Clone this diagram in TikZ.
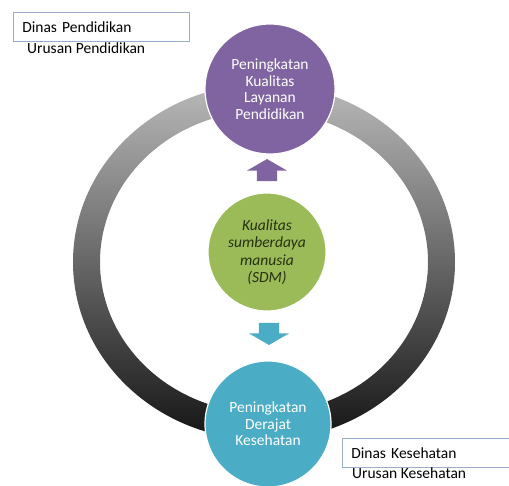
\documentclass[tikz,border=0pt]{standalone}
\usepackage{fontspec}
\setmainfont{Carlito}
\usetikzlibrary{positioning,shapes.arrows}
\definecolor{SdmPurple}{HTML}{8064A2}
\definecolor{SdmGreen}{HTML}{9BBB59}
\definecolor{SdmBlue}{HTML}{4BACC6}
\definecolor{SdmText}{HTML}{25300F}
\definecolor{BoxLine}{HTML}{9AAECB}

\begin{document}
\begin{tikzpicture}[x=1pt,y=-1pt,
 bulat/.style={circle,draw=white,line width=1.2pt,minimum size=#1,inner sep=0pt,align=center,font=\fontsize{15.5}{16.5}\selectfont},
 layanan/.style={bulat=130pt,fill=SdmPurple,text=white},
 inti/.style={bulat=118pt,fill=SdmGreen,text=SdmText,font=\fontsize{15.5}{17.5}\selectfont\itshape},
 kesehatan/.style={bulat=126pt,fill=SdmBlue,text=white},
 panah/.style={single arrow,draw=none,single arrow head extend=10pt,single arrow tip angle=120,inner sep=0pt,minimum width=40pt,minimum height=22pt,text height=20pt},
 dinas/.style={draw=BoxLine,fill=white,line width=.7pt,anchor=north west,inner xsep=9pt,inner ysep=0pt,text width=158pt,minimum height=29pt,align=left,font=\fontsize{15.5}{16}\selectfont},
 urusan/.style={anchor=north west,inner sep=0pt,font=\fontsize{15.5}{16}\selectfont}]
\useasboundingbox (0,0) rectangle (509,485);
\coordinate (pusat) at (264,262);
\shade[top color=gray!55,bottom color=black!92,even odd rule] (pusat) ellipse [x radius=191,y radius=178] (pusat) ellipse [x radius=164,y radius=151];
\node[layanan] (layan) at (270,89) {Peningkatan\\Kualitas\\Layanan\\Pendidikan};
\node[inti] (sdm) at (267,252) {Kualitas\\sumberdaya\\manusia\\(SDM)};
\node[kesehatan] (sehat) at (268,424) {Peningkatan\\Derajat\\Kesehatan};
\node[panah,fill=SdmPurple,rotate=90] (naik) at (267,173) {};
\node[panah,fill=SdmBlue,rotate=-90] (turun) at (269,331) {};
\node[dinas] (dpend) at (13,12) {Dinas Pendidikan};
\node[urusan,below right=1pt and 14pt of dpend.south west] (upend) {Urusan Pendidikan};
\node[dinas] (dkes) at (342,438) {Dinas Kesehatan};
\node[urusan,below right=0pt and 10pt of dkes.south west] (ukes) {Urusan Kesehatan};
\end{tikzpicture}
\end{document}
